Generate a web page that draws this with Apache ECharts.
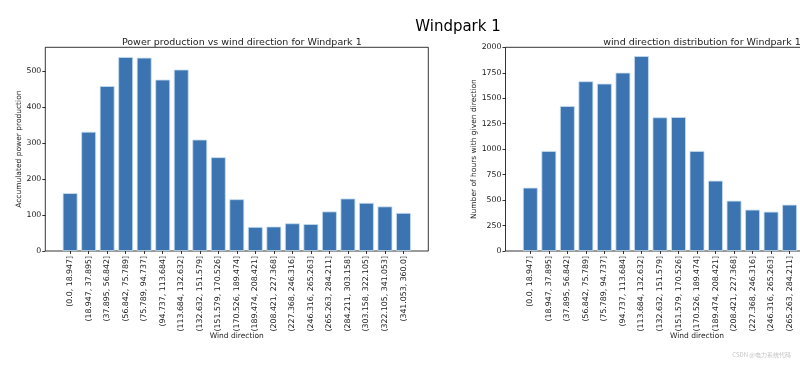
<!DOCTYPE html>
<html>
<head>
<meta charset="utf-8">
<script src="https://cdn.jsdelivr.net/npm/echarts@6/dist/echarts.min.js"></script>
<style>html,body{margin:0;padding:0;background:#fff}#c{width:800px;height:366px}</style>
</head>
<body>
<div id="c"></div>
<script>
const categories = ["(0.0, 18.947]","(18.947, 37.895]","(37.895, 56.842]","(56.842, 75.789]","(75.789, 94.737]","(94.737, 113.684]","(113.684, 132.632]","(132.632, 151.579]","(151.579, 170.526]","(170.526, 189.474]","(189.474, 208.421]","(208.421, 227.368]","(227.368, 246.316]","(246.316, 265.263]","(265.263, 284.211]","(284.211, 303.158]","(303.158, 322.105]","(322.105, 341.053]","(341.053, 360.0]"];
const powerValues = [161, 332, 459, 540, 538, 477, 505, 310, 261, 144, 67, 68, 77, 75, 110, 146, 134, 124, 106];
// last four bars are outside the visible picture; estimated
const hoursValues = [622, 982, 1423, 1666, 1643, 1751, 1914, 1312, 1315, 982, 690, 494, 406, 386, 455, 500, 480, 460, 430];
const powerTicks = [0, 100, 200, 300, 400, 500];
const hoursTicks = [0, 250, 500, 750, 1000, 1250, 1500, 1750, 2000];
const powerMax = 567;
const hoursMax = 2000;

const FONT = 'DejaVu Sans';
const TXT = '#222';
const BAR = '#3b74b0';
const EDGE = '#c8def0';

const frameW = 383, frameTop = 47.3, frameH = 203.7;
const unit = frameW / 20.68;
const innerOff = 0.84 * unit, innerW = 19 * unit;
const leftX = 45.3, rightX = 505.5;

function frameGrid(x) {
  return {left: x, top: frameTop, width: frameW, height: frameH, show: true, borderColor: '#000', borderWidth: 0.8, backgroundColor: 'transparent', containLabel: false, outerBoundsMode: 'none'};
}
function innerGrid(x) {
  return {left: x + innerOff, top: frameTop, width: innerW, height: frameH, containLabel: false, outerBoundsMode: 'none'};
}
function yFrame(idx, max, ticks, name, gap) {
  return {
    type: 'value', gridIndex: idx, min: 0, max: max,
    name: name, nameLocation: 'middle', nameGap: gap, nameRotate: 90, nameMoveOverlap: false,
    nameTextStyle: {fontFamily: FONT, fontSize: 7.5, color: TXT},
    axisLine: {show: false},
    axisTick: {show: true, length: 3, lineStyle: {color: '#000', width: 0.8}, customValues: ticks},
    axisLabel: {fontFamily: FONT, fontSize: 7.8, color: TXT, margin: 4, customValues: ticks, formatter: v => String(v)},
    splitLine: {show: false}
  };
}
function yInner(idx, max) {
  return {type: 'value', gridIndex: idx, min: 0, max: max, show: false, splitLine: {show: false}};
}
function xFrame(idx) {
  return {type: 'value', gridIndex: idx, min: 0, max: 1, show: false, splitLine: {show: false}};
}
function xInner(idx) {
  return {
    type: 'category', gridIndex: idx, data: categories, boundaryGap: true,
    name: 'Wind direction', nameLocation: 'middle', nameGap: 81, nameMoveOverlap: false,
    nameTextStyle: {fontFamily: FONT, fontSize: 7.5, color: TXT},
    axisLine: {show: false},
    axisTick: {show: true, alignWithLabel: true, length: 3, lineStyle: {color: '#000', width: 0.8}},
    axisLabel: {rotate: 90, interval: 0, fontFamily: FONT, fontSize: 7.8, color: TXT, margin: 5},
    splitLine: {show: false}
  };
}

const chart = echarts.init(document.getElementById('c'), null, {renderer: 'canvas'});
chart.setOption({
  animation: false,
  backgroundColor: '#fff',
  title: [
    {text: 'Windpark 1', left: 453, top: 15, textAlign: 'center', textStyle: {fontFamily: FONT, fontSize: 15, fontWeight: 'normal', color: '#000'}},
    {text: 'Power production vs wind direction for Windpark 1', left: leftX + frameW / 2, top: 33, textAlign: 'center', textStyle: {fontFamily: FONT, fontSize: 9.5, fontWeight: 'normal', color: TXT}},
    {text: 'wind direction distribution for Windpark 1', left: rightX + frameW / 2, top: 33, textAlign: 'center', textStyle: {fontFamily: FONT, fontSize: 9.5, fontWeight: 'normal', color: TXT}},
    {text: 'CSDN @电力系统代码', right: 4, bottom: 3, textStyle: {fontFamily: 'Noto Sans CJK SC', fontSize: 6, fontWeight: 'normal', color: '#c4c4c4'}}
  ],
  grid: [frameGrid(leftX), innerGrid(leftX), frameGrid(rightX), innerGrid(rightX)],
  xAxis: [xFrame(0), xInner(1), xFrame(2), xInner(3)],
  yAxis: [
    yFrame(0, powerMax, powerTicks, 'Accumulated power production', 22),
    yInner(1, powerMax),
    yFrame(2, hoursMax, hoursTicks, 'Number of hours with given direction', 27),
    yInner(3, hoursMax)
  ],
  series: [
    {type: 'bar', xAxisIndex: 1, yAxisIndex: 1, data: powerValues, barWidth: '80%', itemStyle: {color: BAR, borderColor: EDGE, borderWidth: 0.8}},
    {type: 'bar', xAxisIndex: 3, yAxisIndex: 3, data: hoursValues, barWidth: '80%', itemStyle: {color: BAR, borderColor: EDGE, borderWidth: 0.8}}
  ]
});
</script>
</body>
</html>
